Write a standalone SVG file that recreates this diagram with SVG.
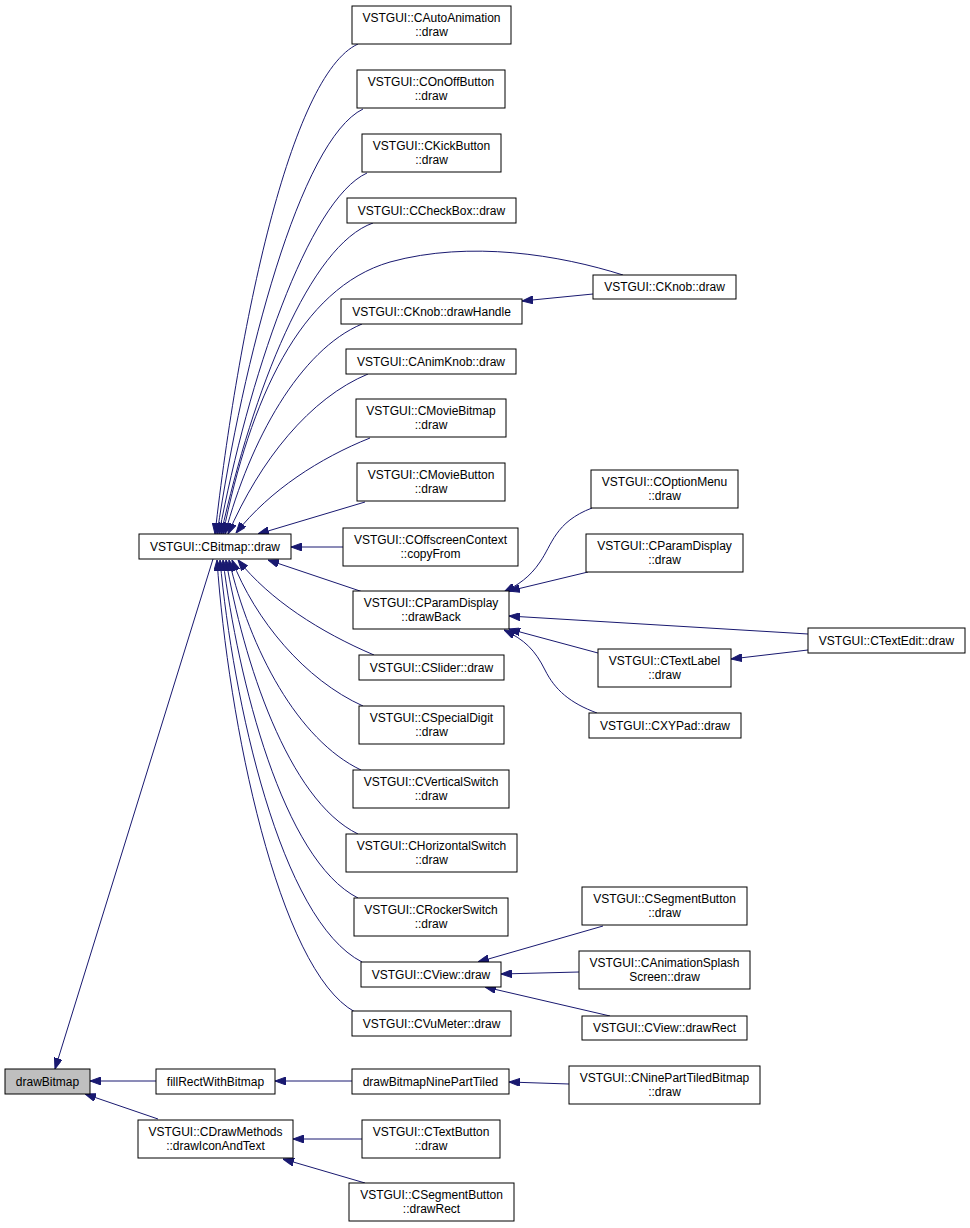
<svg xmlns="http://www.w3.org/2000/svg" width="970" height="1228" viewBox="0 0 970 1228">
<style>
.n rect{fill:#ffffff;stroke:#000000;stroke-width:1}
.n.root rect{fill:#bfbfbf}
.n text{font-family:"Liberation Sans",Arial,Helvetica,sans-serif;font-size:12px;text-anchor:middle;fill:#000000}
.e path{fill:none;stroke:#191970;stroke-width:1;marker-end:url(#ah)}
</style>
<defs>
<marker id="ah" viewBox="0 0 11 8" refX="11" refY="4" markerWidth="11" markerHeight="8" markerUnits="userSpaceOnUse" orient="auto">
<path d="M0,0 L11,4 L0,8 z" fill="#191970" stroke="#191970" stroke-width="1"/>
</marker>
</defs>
<rect x="0" y="0" width="970" height="1228" fill="#ffffff"/>
<g id="connectors" class="e">
<path d="M358,44 C290,75 238,330 215,534"/>
<path d="M363,109 C300,140 243,360 217,534"/>
<path d="M367,173 C308,200 248,380 219,534"/>
<path d="M373,223 C310,245 253,390 221,534"/>
<path d="M623,275 C560,255 470,240 390,262 C300,288 250,400 223,534"/>
<path d="M362,324 C300,350 250,440 225,534"/>
<path d="M368,374 C310,398 260,460 228,534"/>
<path d="M370,438 C320,458 270,490 236,533"/>
<path d="M365,502 L258,534"/>
<path d="M343,547 L291,547"/>
<path d="M363,592 L268,560"/>
<path d="M374,655 C320,632 270,600 238,560"/>
<path d="M363,706 C305,680 255,620 232,560"/>
<path d="M361,770 C298,740 250,650 229,560"/>
<path d="M358,834 C288,800 243,660 226,560"/>
<path d="M358,898 C283,860 238,680 223,560"/>
<path d="M362,962 C280,920 233,700 220,560"/>
<path d="M355,1012 C278,970 228,720 217,560"/>
<path d="M213,559 L55,1069"/>
<path d="M593,294 L522,301"/>
<path d="M592,508 C555,522 552,545 540,562 C530,577 518,585 504,592"/>
<path d="M588,572 L509,591"/>
<path d="M808,634 L509,616"/>
<path d="M598,653 L509,629"/>
<path d="M597,713 C570,703 555,690 545,670 C535,650 525,640 504,630"/>
<path d="M808,650 L731,659"/>
<path d="M603,926 L478,962"/>
<path d="M579,972 L501,974"/>
<path d="M610,1016 L485,987"/>
<path d="M156,1081 L90,1081"/>
<path d="M352,1081 L275,1081"/>
<path d="M569,1084 L509,1082"/>
<path d="M158,1119 L85,1094"/>
<path d="M362,1139 L293,1139"/>
<path d="M365,1183 L283,1159"/>
</g>
<g id="n_drawBitmap" class="n root"><rect x="5" y="1069" width="85" height="25"/><text x="47.5" y="1085.5">drawBitmap</text></g>
<g id="n_CBitmap_draw" class="n"><rect x="139" y="534" width="152" height="25"/><text x="215" y="550.5">VSTGUI::CBitmap::draw</text></g>
<g id="n_CAutoAnimation" class="n"><rect x="352" y="6" width="159" height="38"/><text x="431.5" y="22">VSTGUI::CAutoAnimation</text><text x="431.5" y="36">::draw</text></g>
<g id="n_COnOffButton" class="n"><rect x="357" y="70" width="148" height="38"/><text x="431" y="86">VSTGUI::COnOffButton</text><text x="431" y="100">::draw</text></g>
<g id="n_CKickButton" class="n"><rect x="362" y="134" width="139" height="38"/><text x="431.5" y="150">VSTGUI::CKickButton</text><text x="431.5" y="164">::draw</text></g>
<g id="n_CCheckBox" class="n"><rect x="347" y="198" width="169" height="25"/><text x="431.5" y="214.5">VSTGUI::CCheckBox::draw</text></g>
<g id="n_CKnob_drawHandle" class="n"><rect x="341" y="299" width="181" height="25"/><text x="431.5" y="315.5">VSTGUI::CKnob::drawHandle</text></g>
<g id="n_CKnob_draw" class="n"><rect x="593" y="275" width="143" height="24"/><text x="664.5" y="291">VSTGUI::CKnob::draw</text></g>
<g id="n_CAnimKnob" class="n"><rect x="346" y="349" width="170" height="25"/><text x="431" y="365.5">VSTGUI::CAnimKnob::draw</text></g>
<g id="n_CMovieBitmap" class="n"><rect x="356" y="399" width="150" height="38"/><text x="431" y="415">VSTGUI::CMovieBitmap</text><text x="431" y="429">::draw</text></g>
<g id="n_CMovieButton" class="n"><rect x="357" y="463" width="148" height="38"/><text x="431" y="479">VSTGUI::CMovieButton</text><text x="431" y="493">::draw</text></g>
<g id="n_COffscreenContext" class="n"><rect x="343" y="528" width="175" height="38"/><text x="430.5" y="544">VSTGUI::COffscreenContext</text><text x="430.5" y="558">::copyFrom</text></g>
<g id="n_CParamDisplay_drawBack" class="n"><rect x="353" y="591" width="156" height="38"/><text x="431" y="607">VSTGUI::CParamDisplay</text><text x="431" y="621">::drawBack</text></g>
<g id="n_COptionMenu" class="n"><rect x="591" y="470" width="147" height="38"/><text x="664.5" y="486">VSTGUI::COptionMenu</text><text x="664.5" y="500">::draw</text></g>
<g id="n_CParamDisplay_draw" class="n"><rect x="586" y="534" width="157" height="38"/><text x="664.5" y="550">VSTGUI::CParamDisplay</text><text x="664.5" y="564">::draw</text></g>
<g id="n_CTextEdit" class="n"><rect x="808" y="628" width="157" height="25"/><text x="886.5" y="644.5">VSTGUI::CTextEdit::draw</text></g>
<g id="n_CTextLabel" class="n"><rect x="598" y="649" width="133" height="38"/><text x="664.5" y="665">VSTGUI::CTextLabel</text><text x="664.5" y="679">::draw</text></g>
<g id="n_CXYPad" class="n"><rect x="589" y="713" width="152" height="25"/><text x="665" y="729.5">VSTGUI::CXYPad::draw</text></g>
<g id="n_CSlider" class="n"><rect x="359" y="655" width="145" height="25"/><text x="431.5" y="671.5">VSTGUI::CSlider::draw</text></g>
<g id="n_CSpecialDigit" class="n"><rect x="359" y="706" width="145" height="38"/><text x="431.5" y="722">VSTGUI::CSpecialDigit</text><text x="431.5" y="736">::draw</text></g>
<g id="n_CVerticalSwitch" class="n"><rect x="353" y="770" width="156" height="38"/><text x="431" y="786">VSTGUI::CVerticalSwitch</text><text x="431" y="800">::draw</text></g>
<g id="n_CHorizontalSwitch" class="n"><rect x="346" y="834" width="171" height="38"/><text x="431.5" y="850">VSTGUI::CHorizontalSwitch</text><text x="431.5" y="864">::draw</text></g>
<g id="n_CRockerSwitch" class="n"><rect x="354" y="898" width="154" height="38"/><text x="431" y="914">VSTGUI::CRockerSwitch</text><text x="431" y="928">::draw</text></g>
<g id="n_CView_draw" class="n"><rect x="361" y="962" width="140" height="25"/><text x="431" y="978.5">VSTGUI::CView::draw</text></g>
<g id="n_CVuMeter" class="n"><rect x="352" y="1011" width="159" height="25"/><text x="431.5" y="1027.5">VSTGUI::CVuMeter::draw</text></g>
<g id="n_CSegmentButton_draw" class="n"><rect x="582" y="887" width="165" height="38"/><text x="664.5" y="903">VSTGUI::CSegmentButton</text><text x="664.5" y="917">::draw</text></g>
<g id="n_CAnimationSplashScreen" class="n"><rect x="579" y="951" width="171" height="38"/><text x="664.5" y="967">VSTGUI::CAnimationSplash</text><text x="664.5" y="981">Screen::draw</text></g>
<g id="n_CView_drawRect" class="n"><rect x="582" y="1016" width="165" height="24"/><text x="664.5" y="1032">VSTGUI::CView::drawRect</text></g>
<g id="n_fillRectWithBitmap" class="n"><rect x="156" y="1069" width="119" height="25"/><text x="215.5" y="1085.5">fillRectWithBitmap</text></g>
<g id="n_drawBitmapNinePartTiled" class="n"><rect x="352" y="1069" width="157" height="25"/><text x="430.5" y="1085.5">drawBitmapNinePartTiled</text></g>
<g id="n_CNinePartTiledBitmap" class="n"><rect x="569" y="1066" width="191" height="38"/><text x="664.5" y="1082">VSTGUI::CNinePartTiledBitmap</text><text x="664.5" y="1096">::draw</text></g>
<g id="n_CDrawMethods" class="n"><rect x="138" y="1120" width="155" height="38"/><text x="215.5" y="1136">VSTGUI::CDrawMethods</text><text x="215.5" y="1150">::drawIconAndText</text></g>
<g id="n_CTextButton" class="n"><rect x="362" y="1120" width="138" height="38"/><text x="431" y="1136">VSTGUI::CTextButton</text><text x="431" y="1150">::draw</text></g>
<g id="n_CSegmentButton_drawRect" class="n"><rect x="349" y="1183" width="165" height="38"/><text x="431.5" y="1199">VSTGUI::CSegmentButton</text><text x="431.5" y="1213">::drawRect</text></g>
</svg>
